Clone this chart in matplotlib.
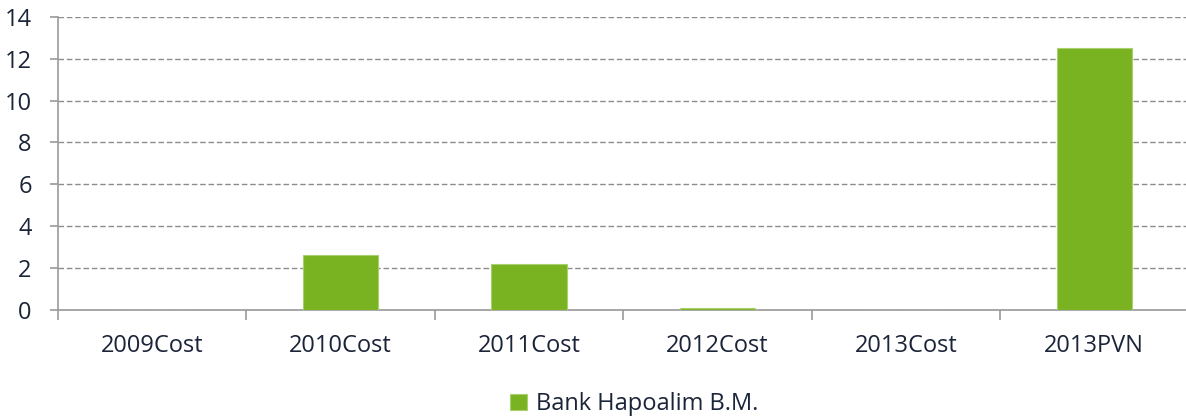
import numpy as np
import matplotlib.pyplot as plt

# data
categories = ['2009Cost', '2010Cost', '2011Cost', '2012Cost', '2013Cost', '2013PVN']
values = [0, 2.62, 2.2, 0.1, 0, 12.5]
series_name = 'Bank Hapoalim B.M.'

plt.rcParams['font.family'] = ['Open Sans', 'DejaVu Sans']
text_col = '#1b2438'
grid_col = '#8c8c8c'
bar_col = '#7ab321'

fig = plt.figure(figsize=(11.86, 4.18), dpi=100)
ax = fig.add_axes([0.049, 0.258, 0.953, 0.702])

x = np.arange(len(categories))
ax.bar(x, values, width=0.4, color=bar_col, edgecolor='#a9d06e', linewidth=0.8,
       label=series_name, zorder=3)

ax.set_xlim(-0.5, len(categories) - 0.5)
ax.set_ylim(0, 14)
ax.set_yticks(range(0, 15, 2))
ax.yaxis.grid(True, linestyle=(0, (4, 2)), color=grid_col, linewidth=1)
ax.set_axisbelow(True)

# boundary ticks (major) and centred labels (minor)
ax.set_xticks(np.arange(-0.5, len(categories), 1.0))
ax.set_xticklabels([])
ax.set_xticks(x, minor=True)
ax.set_xticklabels(categories, minor=True)
ax.tick_params(axis='x', which='major', length=7, width=1.2, color='#999999')
ax.tick_params(axis='x', which='minor', length=0, pad=17, labelsize=17, labelcolor=text_col)
ax.tick_params(axis='y', length=6, width=1.2, color='#999999', labelsize=17,
               labelcolor=text_col, pad=13)

for s in ['top', 'right']:
    ax.spines[s].set_visible(False)
for s in ['left', 'bottom']:
    ax.spines[s].set_color('#999999')
    ax.spines[s].set_linewidth(1.2)

leg = fig.legend(loc='center', bbox_to_anchor=(0.535, 0.033), frameon=False,
                 fontsize=17, handlelength=0.7, handleheight=0.7, handletextpad=0.4,
                 borderpad=0)
for t in leg.get_texts():
    t.set_color(text_col)

plt.savefig('out.png', dpi=100)
